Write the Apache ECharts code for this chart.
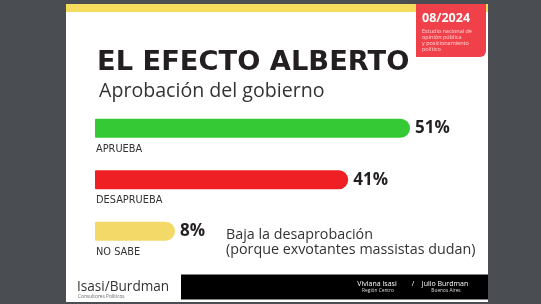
<!DOCTYPE html>
<html><head><meta charset="utf-8">
<script src="https://cdn.jsdelivr.net/npm/echarts@6/dist/echarts.min.js"></script>
<style>html,body{margin:0;padding:0;background:#4a4d51;}#c{width:541px;height:304px;}</style>
</head><body><div id="c"></div>
<script>
// ---- data ----
const categories = ['APRUEBA', 'DESAPRUEBA', 'NO SABE'];
const values = [51, 41, 8];
const titleText = 'EL EFECTO ALBERTO';
const subtitleText = 'Aprobación del gobierno';
const noteLines = ['Baja la desaprobación', '(porque exvotantes massistas dudan)'];
const badgeDate = '08/2024';
const badgeLines = ['Estudio nacional de', 'opinión pública', 'y posicionamiento', 'político'];

// ---- style ----
const palette = ['#35c935', '#ee2024', '#f3da68'];
const F = '"Open Sans", "Noto Sans", sans-serif';
const FW = '"DejaVu Sans", sans-serif';

const chart = echarts.init(document.getElementById('c'), null, {renderer: 'canvas'});
const graphics = [
  {type: 'rect', shape: {x: 66, y: 4, width: 422, height: 298}, style: {fill: '#ffffff'}, z: -10},
  {type: 'rect', shape: {x: 66, y: 4, width: 422, height: 8}, style: {fill: '#f5dc5c'}, z: -9},
  {type: 'rect', shape: {x: 416, y: 4, width: 70, height: 53, r: [0, 0, 6, 0]}, style: {fill: '#f0414a'}, z: -8},
  {type: 'text', x: 422, y: 18, style: {text: badgeDate, fill: '#fff', font: 'bold 12.5px ' + F, verticalAlign: 'middle'}},
  {type: 'text', x: 422, y: 28, style: {text: badgeLines.join('\n'), fill: '#ffd7d7', font: '5.5px ' + F, lineHeight: 6, verticalAlign: 'top'}},
  {type: 'text', x: 97, y: 63, style: {text: titleText, fill: '#231f20', font: 'bold 27.3px ' + FW, verticalAlign: 'middle'}},
  {type: 'text', x: 99, y: 91, style: {text: subtitleText, fill: '#333', font: '19.6px ' + F, verticalAlign: 'middle'}},
  {type: 'text', x: 226, y: 242, style: {text: noteLines.join('\n'), fill: '#333', font: '14.3px ' + F, lineHeight: 15, verticalAlign: 'middle'}},
  {type: 'rect', shape: {x: 181, y: 274.5, width: 307, height: 25}, style: {fill: '#000'}},
  {type: 'text', x: 77, y: 287, style: {text: 'Isasi/Burdman', fill: '#333', font: '13.6px ' + F, verticalAlign: 'middle'}},
  {type: 'text', x: 78, y: 296.5, style: {text: 'Consultores Políticos', fill: '#666', font: '4.8px ' + F, verticalAlign: 'middle'}},
  {type: 'text', x: 377, y: 283.5, style: {text: 'Viviana Isasi', fill: '#fff', font: '7px ' + F, align: 'center', verticalAlign: 'middle'}},
  {type: 'text', x: 378, y: 290.5, style: {text: 'Región Centro', fill: '#ddd', font: '4.8px ' + F, align: 'center', verticalAlign: 'middle'}},
  {type: 'text', x: 413, y: 283.5, style: {text: '/', fill: '#fff', font: '7px ' + F, align: 'center', verticalAlign: 'middle'}},
  {type: 'text', x: 445, y: 283.5, style: {text: 'Julio Burdman', fill: '#fff', font: '7px ' + F, align: 'center', verticalAlign: 'middle'}},
  {type: 'text', x: 446, y: 290.5, style: {text: 'Buenos Aires', fill: '#ddd', font: '4.8px ' + F, align: 'center', verticalAlign: 'middle'}}
];

chart.setOption({
  animation: false,
  backgroundColor: '#4a4d51',
  graphic: graphics,
  grid: {left: 95, width: 315, top: 102.5, height: 154.5, containLabel: false},
  xAxis: {type: 'value', min: 0, max: 51, show: false},
  yAxis: {
    type: 'category', data: categories, inverse: true,
    axisLine: {show: false}, axisTick: {show: false}, splitLine: {show: false},
    axisLabel: {inside: true, margin: 1, color: '#333', fontFamily: FW, fontSize: 9.8,
      verticalAlign: 'top', padding: [16, 0, 0, 0]}
  },
  series: [{
    type: 'bar', barWidth: 19, barMinHeight: 80,
    data: values.map((v, i) => ({value: v, itemStyle: {color: palette[i]}})),
    itemStyle: {borderRadius: [1, 9.5, 9.5, 1]},
    label: {show: true, position: 'right', distance: 5, formatter: '{c}%',
      color: '#231f20', fontFamily: F, fontWeight: 'bold', fontSize: 17},
    z: 5
  }]
});
</script></body></html>
